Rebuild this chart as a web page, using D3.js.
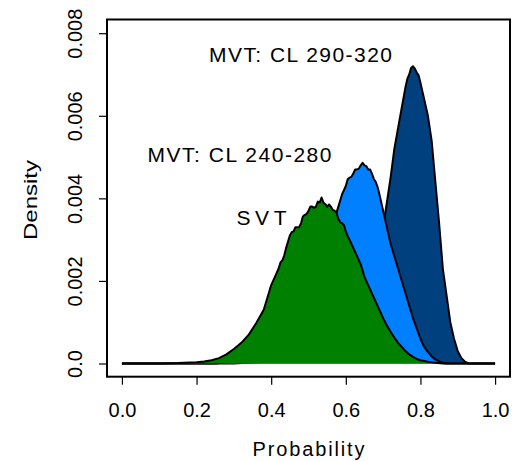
<!DOCTYPE html>
<html>
<head>
<meta charset="utf-8">
<script src="https://cdn.jsdelivr.net/npm/d3@7"></script>
<style>
  body { margin: 0; background: #fff; }
  text { font-family: "Liberation Sans", Arial, sans-serif; fill: #000; }
</style>
</head>
<body>
<div id="container"></div>
<script>
// Density curves, [probability, density]
let mvt290 = [
  [0, 0], [0.30, 0], [0.40, 0.00005], [0.45, 0.0001], [0.50, 0.0002], [0.55, 0.0004],
  [0.60, 0.0008], [0.62, 0.0011], [0.64, 0.0015], [0.66, 0.0020], [0.68, 0.0027],
  [0.70, 0.0033], [0.71, 0.0039], [0.72, 0.0045], [0.73, 0.0052], [0.74, 0.0057],
  [0.75, 0.0062], [0.76, 0.0067], [0.765, 0.0069], [0.77, 0.0070], [0.775, 0.00716],
  [0.78, 0.0072], [0.785, 0.00714], [0.79, 0.00705], [0.795, 0.00698], [0.80, 0.0068],
  [0.81, 0.0064], [0.82, 0.0060], [0.83, 0.0054], [0.84, 0.0044], [0.85, 0.0034],
  [0.86, 0.0023], [0.87, 0.00165], [0.88, 0.0010], [0.89, 0.0006], [0.90, 0.0003],
  [0.91, 0.00013], [0.92, 0.00004], [0.93, 0], [1, 0]
];
let mvt240 = [
  [0, 0], [0.25, 0], [0.30, 0.00005], [0.35, 0.0001], [0.40, 0.0004], [0.45, 0.0009],
  [0.50, 0.0017], [0.53, 0.0024], [0.55, 0.0029], [0.56, 0.0032], [0.57, 0.0035],
  [0.58, 0.0038], [0.59, 0.0041], [0.60, 0.0043], [0.605, 0.00446], [0.61, 0.0045],
  [0.615, 0.00452], [0.62, 0.0046], [0.625, 0.0047], [0.63, 0.0047], [0.635, 0.00472],
  [0.64, 0.0048], [0.645, 0.00486], [0.65, 0.0048], [0.655, 0.00478], [0.66, 0.0047],
  [0.665, 0.0047], [0.67, 0.0046], [0.675, 0.00447], [0.68, 0.0044], [0.685, 0.00428],
  [0.69, 0.0041], [0.70, 0.0037], [0.71, 0.0033], [0.72, 0.0029], [0.73, 0.0026],
  [0.74, 0.0023], [0.75, 0.0020], [0.76, 0.0017], [0.77, 0.0014], [0.78, 0.0011],
  [0.79, 0.00085], [0.80, 0.0006], [0.81, 0.0004], [0.82, 0.00028], [0.83, 0.00017],
  [0.84, 0.0001], [0.85, 0.00005], [0.86, 0.00002], [0.87, 0], [1, 0]
];
let svt = [
  [0, 0], [0.10, 0], [0.15, 0.00001], [0.20, 0.00003], [0.22, 0.00005], [0.24, 0.00008],
  [0.26, 0.00013], [0.28, 0.00022], [0.30, 0.00035], [0.32, 0.0005], [0.34, 0.0007],
  [0.36, 0.00098], [0.38, 0.0013], [0.39, 0.0016], [0.40, 0.0019], [0.41, 0.0021],
  [0.42, 0.0023], [0.425, 0.00245], [0.43, 0.0025], [0.435, 0.00262], [0.44, 0.0028],
  [0.45, 0.0031], [0.455, 0.00318], [0.46, 0.0032], [0.465, 0.0033], [0.47, 0.0033],
  [0.475, 0.0033], [0.48, 0.0034], [0.485, 0.00356], [0.49, 0.0036], [0.495, 0.00362],
  [0.50, 0.0037], [0.505, 0.0038], [0.51, 0.0038], [0.515, 0.00377], [0.52, 0.0038],
  [0.525, 0.00392], [0.53, 0.0039], [0.535, 0.00402], [0.54, 0.0039], [0.545, 0.00386],
  [0.55, 0.0038], [0.555, 0.00385], [0.56, 0.0038], [0.565, 0.00372], [0.57, 0.0037],
  [0.575, 0.00366], [0.58, 0.0035], [0.585, 0.00342], [0.59, 0.0034], [0.595, 0.00335],
  [0.60, 0.0032], [0.605, 0.00308], [0.61, 0.0030], [0.62, 0.0028], [0.63, 0.0026],
  [0.64, 0.0024], [0.65, 0.0021], [0.66, 0.0019], [0.67, 0.0017], [0.68, 0.0015],
  [0.69, 0.0013], [0.70, 0.0011], [0.71, 0.00092], [0.72, 0.00077], [0.73, 0.00063],
  [0.74, 0.0005], [0.75, 0.0004], [0.76, 0.0003], [0.77, 0.00022], [0.78, 0.00016],
  [0.79, 0.00011], [0.80, 0.00008], [0.82, 0.00004], [0.84, 0.00002], [0.86, 0], [1, 0]
];

// Series names, drawn back to front
let seriesNames = ["MVT: CL 290-320", "MVT: CL 240-280", "SVT"];
let seriesColors = ["#00407f", "#0080ff", "#008000"];

// Tick labels
let xTicks = [0, 0.2, 0.4, 0.6, 0.8, 1.0];
let xTickLabels = ["0.0", "0.2", "0.4", "0.6", "0.8", "1.0"];
let yTicks = [0, 0.002, 0.004, 0.006, 0.008];
let yTickLabels = ["0.0", "0.002", "0.004", "0.006", "0.008"];

let chart_width = 521;
let chart_height = 461;

let svg = d3.select("#container")
  .append("svg")
  .attr("width", chart_width)
  .attr("height", chart_height);

// R style scales: 4% padding round the data range
let x = d3.scaleLinear().domain([-0.04, 1.04]).range([107, 510]);
let y = d3.scaleLinear().domain([-0.00032, 0.00832]).range([376.7, 20]);

let area = d3.area()
  .x((d) => x(d[0]))
  .y0(y(0))
  .y1((d) => y(d[1]));
let line = d3.line()
  .x((d) => x(d[0]))
  .y((d) => y(d[1]));

let allSeries = [mvt290, mvt240, svt];
allSeries.forEach(function(s, i){
  svg.append("path")
    .datum(s)
    .attr("d", area)
    .attr("fill", seriesColors[i]);
  svg.append("path")
    .datum(s)
    .attr("d", line)
    .attr("fill", "none")
    .attr("stroke", "#000")
    .attr("stroke-width", 2)
    .attr("stroke-linejoin", "round");
});

// Box round the plot
svg.append("rect")
  .attr("x", 107)
  .attr("y", 19.5)
  .attr("width", 403)
  .attr("height", 357.2)
  .attr("fill", "none")
  .attr("stroke", "#000")
  .attr("stroke-width", 2);

// X axis
let xAxis = svg.append("g")
  .attr("transform", "translate(0,376.7)")
  .call(d3.axisBottom(x)
    .tickValues(xTicks)
    .tickSize(8)
    .tickSizeOuter(0)
    .tickFormat((d, i) => xTickLabels[i]));
xAxis.select(".domain").remove();
xAxis.selectAll("line").attr("stroke", "#000").attr("stroke-width", 1.2);
xAxis.selectAll("text")
  .attr("y", 40)
  .attr("dy", 0)
  .style("font-size", "20px")
  .style("font-family", "Liberation Sans, Arial, sans-serif");

// Y axis, labels turned like R's default
let yAxis = svg.append("g")
  .attr("transform", "translate(107,0)")
  .call(d3.axisLeft(y)
    .tickValues(yTicks)
    .tickSize(8)
    .tickSizeOuter(0)
    .tickFormat((d, i) => yTickLabels[i]));
yAxis.select(".domain").remove();
yAxis.selectAll("line").attr("stroke", "#000").attr("stroke-width", 1.2);
yAxis.selectAll("text")
  .attr("transform", "rotate(-90)")
  .attr("x", 0)
  .attr("y", -25)
  .attr("dy", 0)
  .attr("text-anchor", "middle")
  .style("font-size", "20px")
  .style("font-family", "Liberation Sans, Arial, sans-serif");

// Axis titles
svg.append("text")
  .attr("x", 308.5)
  .attr("y", 456)
  .attr("text-anchor", "middle")
  .attr("textLength", 112)
  .attr("lengthAdjust", "spacing")
  .style("font-size", "20px")
  .text("Probability");

svg.append("text")
  .attr("transform", "translate(37,200) rotate(-90)")
  .attr("text-anchor", "middle")
  .attr("textLength", 80)
  .attr("lengthAdjust", "spacingAndGlyphs")
  .style("font-size", "19px")
  .text("Density");

// Curve labels
let labelPos = [[209, 62, 183], [147.5, 162, 184], [236.5, 225, 50]];
seriesNames.forEach(function(name, i){
  svg.append("text")
    .attr("x", labelPos[i][0])
    .attr("y", labelPos[i][1])
    .attr("textLength", labelPos[i][2])
    .attr("lengthAdjust", "spacing")
    .style("font-size", "21px")
    .text(name);
});
</script>
</body>
</html>
